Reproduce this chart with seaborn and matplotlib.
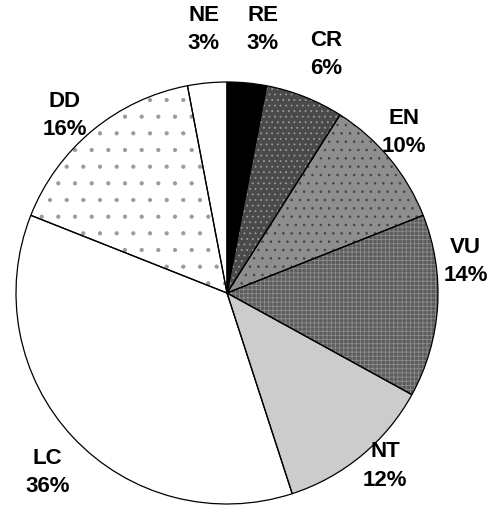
import matplotlib
matplotlib.use('Agg')
import matplotlib.pyplot as plt
import seaborn as sns
import numpy as np

# IUCN categories, clockwise from 12 o'clock
categories = ['RE', 'CR', 'EN', 'VU', 'NT', 'LC', 'DD', 'NE']
shares = [3, 6, 10, 14, 12, 36, 16, 3]

# fill style per wedge: (face colour, hatch, hatch colour)
styles = [
    ('#000000', '', '#000000'),
    ('#4a4a4a', '...', '#9a9a9a'),
    ('#8e8e8e', '..', '#454545'),
    ('#5c5c5c', '++++', '#8c8c8c'),
    ('#cccccc', '', '#cccccc'),
    ('#ffffff', '', '#ffffff'),
    ('#ffffff', '.', '#9a9a9a'),
    ('#ffffff', '', '#ffffff'),
]

# label centres, in units of the pie radius (Excel-style outside labels)
label_xy = [(0.17, 1.25), (0.47, 1.13), (0.84, 0.76), (1.13, 0.15),
            (0.75, -0.82), (-0.85, -0.85), (-0.77, 0.84), (-0.11, 1.25)]

sns.set_theme(style='white')
plt.rcParams['font.family'] = ['Liberation Sans', 'DejaVu Sans']
plt.rcParams['hatch.linewidth'] = 0.6

fig = plt.figure(figsize=(4.93, 5.09), dpi=100)
ax = fig.add_axes([16 / 493, 5 / 509, 422 / 493, 422 / 509])

# filled + hatched wedges (hatch takes the edge colour)
wedges, _ = ax.pie(shares, startangle=90, counterclock=False, radius=1,
                   wedgeprops=dict(linewidth=0))
for w, (fc, hatch, hc) in zip(wedges, styles):
    w.set_facecolor(fc)
    w.set_edgecolor(hc)
    w.set_hatch(hatch)

# black outlines on top
outl, _ = ax.pie(shares, startangle=90, counterclock=False, radius=1,
                 wedgeprops=dict(fill=False, edgecolor='black', linewidth=0.9))

for cat, val, (x, y) in zip(categories, shares, label_xy):
    ax.text(x, y, f'{cat}\n{val}%', ha='center', va='center',
            fontsize=16, fontweight='bold', linespacing=1.45, color='black')

ax.set_xlim(-1, 1)
ax.set_ylim(-1, 1)
ax.axis('off')

fig.savefig('out.png', dpi=100)
